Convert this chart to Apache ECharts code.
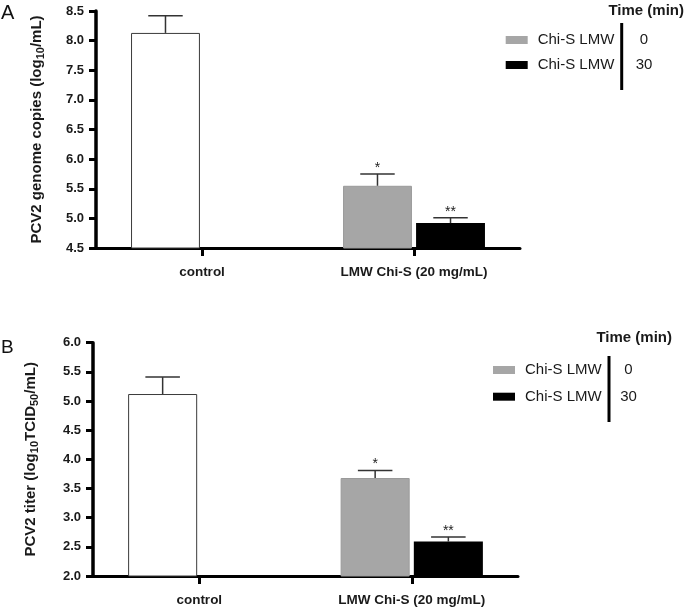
<!DOCTYPE html>
<html>
<head>
<meta charset="utf-8">
<script src="https://cdn.jsdelivr.net/npm/echarts@6/dist/echarts.min.js"></script>
<style>
html,body{margin:0;padding:0;background:#fff;}
#chart{width:685px;height:607px;}
</style>
</head>
<body>
<div id="chart"></div>
<script>
// ---- data ----
const categories = ['control', 'LMW Chi-S (20 mg/mL)'];
const seriesNames = ['Chi-S LMW 0', 'Chi-S LMW 30'];
const timeLabels = ['0', '30'];
// Panel A: PCV2 genome copies (log10/mL)
const genomeFirst = [8.13, 5.55];     // control, Chi-S LMW 0 min
const genomeSecond = [null, 4.92];    // Chi-S LMW 30 min
const genomeErrFirst = [0.29, 0.20];
const genomeErrSecond = [null, 0.09];
// Panel B: PCV2 titer (log10TCID50/mL)
const titerFirst = [5.12, 3.68];
const titerSecond = [null, 2.59];
const titerErrFirst = [0.29, 0.13];
const titerErrSecond = [null, 0.08];
const sigFirst = ['', '*'];
const sigSecond = ['', '**'];
const yTicksA = {min: 4.5, max: 8.5, interval: 0.5};
const yTicksB = {min: 2.0, max: 6.0, interval: 0.5};

// ---- styling ----
const FONT = 'Liberation Sans, Arial, Helvetica, sans-serif';
const BAR_FRAC = 0.325;
const GAP_FRAC = 0.06;
const WHITE = '#ffffff', GRAY = '#a6a6a6', BLACK = '#000000';

function barData(first, second) {
  return [
    first.map((v, i) => ({value: v, itemStyle: i === 0 ? {color: WHITE, borderColor: '#3a3a3a', borderWidth: 1} : {color: GRAY, borderColor: '#9a9a9a', borderWidth: 1}})),
    second.map(v => (v == null ? '-' : v))
  ];
}

function errData(first, second, eFirst, eSecond, sF, sS) {
  const out = [];
  first.forEach((v, i) => { if (v != null) out.push({value: [i, 0, v, v + eFirst[i]], sig: sF[i]}); });
  second.forEach((v, i) => { if (v != null) out.push({value: [i, 1, v, v + eSecond[i]], sig: sS[i]}); });
  return out;
}

function errSeries(xi, data) {
  return {
    type: 'custom', xAxisIndex: xi, yAxisIndex: xi, z: 5, silent: true,
    data: data.map(d => d.value),
    renderItem: function (params, api) {
      const cat = api.value(0), slot = api.value(1);
      const base = api.coord([cat, api.value(2)]);
      const top = api.coord([cat, api.value(3)]);
      const band = api.size([1, 0])[0];
      const bw = band * BAR_FRAC;
      const gap = bw * GAP_FRAC;
      const x = base[0] + (slot === 0 ? -1 : 1) * (bw + gap) / 2;
      const capHalf = bw / 4;
      const sig = data[params.dataIndex].sig;
      const children = [
        {type: 'line', shape: {x1: x, y1: base[1], x2: x, y2: top[1]}, style: {stroke: '#333', lineWidth: 1.5}},
        {type: 'line', shape: {x1: x - capHalf, y1: top[1], x2: x + capHalf, y2: top[1]}, style: {stroke: '#333', lineWidth: 1.5}}
      ];
      if (sig) {
        children.push({type: 'text', style: {text: sig, x: x, y: top[1] + 1, align: 'center', verticalAlign: 'bottom', font: '14px ' + FONT, fill: '#222'}});
      }
      return {type: 'group', children: children};
    }
  };
}

const axisLine = w => ({show: true, lineStyle: {color: '#000', width: w}});

function yAxis(gi, ticks, name, gap) {
  return {
    type: 'value', gridIndex: gi, min: ticks.min, max: ticks.max, interval: ticks.interval,
    axisLine: axisLine(3.5),
    axisTick: {show: true, length: 7, lineStyle: {color: '#000', width: 3}},
    axisLabel: {margin: 12, color: '#1a1a1a', fontFamily: FONT, fontWeight: 'bold', fontSize: 13, formatter: v => v.toFixed(1)},
    splitLine: {show: false},
    name: name, nameLocation: 'middle', nameRotate: 90, nameGap: gap,
    nameTextStyle: {color: '#1a1a1a', fontFamily: FONT, fontWeight: 'bold', fontSize: 15,
      rich: {sub: {fontFamily: FONT, fontWeight: 'bold', fontSize: 11, color: '#1a1a1a', padding: [7, 0, 0, 0]}}}
  };
}

function xAxis(gi) {
  return {
    type: 'category', gridIndex: gi, data: categories,
    axisLine: axisLine(3),
    axisTick: {show: true, alignWithLabel: true, length: 8, lineStyle: {color: '#000', width: 3}},
    axisLabel: {margin: 17, color: '#1a1a1a', fontFamily: FONT, fontWeight: 'bold', fontSize: 13.5}
  };
}

const [gA1, gA2] = barData(genomeFirst, genomeSecond);
const [gB1, gB2] = barData(titerFirst, titerSecond);

function legend(left, top, gapV) {
  return {
    left: left, top: top, orient: 'vertical', icon: 'rect', itemWidth: 22, itemHeight: 8, itemGap: gapV,
    padding: 0, selectedMode: false, data: seriesNames,
    formatter: () => 'Chi-S LMW',
    textStyle: {fontFamily: FONT, fontSize: 15, color: '#1a1a1a', lineHeight: 17, padding: [0, 0, 0, 5]}
  };
}

function legendDecor(lineX, y1, y2, numX, numYs, titleRight, titleY) {
  const els = [
    {type: 'line', shape: {x1: lineX, y1: y1, x2: lineX, y2: y2}, style: {stroke: '#000', lineWidth: 3}},
    {type: 'text', style: {text: 'Time (min)', x: titleRight, y: titleY, align: 'right', verticalAlign: 'middle', font: 'bold 15px ' + FONT, fill: '#1a1a1a'}}
  ];
  timeLabels.forEach((t, i) => {
    els.push({type: 'text', style: {text: t, x: numX, y: numYs[i], align: 'center', verticalAlign: 'middle', font: '15px ' + FONT, fill: '#1a1a1a'}});
  });
  return els;
}

const option = {
  animation: false,
  backgroundColor: '#fff',
  grid: [
    {left: 96, top: 11, width: 424, height: 237},
    {left: 93, top: 342.7, width: 425, height: 238}
  ],
  xAxis: [xAxis(0), xAxis(1)],
  yAxis: [
    yAxis(0, yTicksA, 'PCV2 genome copies (log{sub|10}/mL)', 50),
    yAxis(1, yTicksB, 'PCV2 titer (log{sub|10}TCID{sub|50}/mL)', 53)
  ],
  legend: [legend(505.7, 31.5, 8), legend(493, 361.5, 9.7)],
  series: [
    {name: seriesNames[0], type: 'bar', xAxisIndex: 0, yAxisIndex: 0, data: gA1, barWidth: (BAR_FRAC * 100) + '%', barGap: (GAP_FRAC * 100) + '%', itemStyle: {color: GRAY}},
    {name: seriesNames[1], type: 'bar', xAxisIndex: 0, yAxisIndex: 0, data: gA2, barWidth: (BAR_FRAC * 100) + '%', barGap: (GAP_FRAC * 100) + '%', itemStyle: {color: BLACK}},
    {name: seriesNames[0], type: 'bar', xAxisIndex: 1, yAxisIndex: 1, data: gB1, barWidth: (BAR_FRAC * 100) + '%', barGap: (GAP_FRAC * 100) + '%', itemStyle: {color: GRAY}},
    {name: seriesNames[1], type: 'bar', xAxisIndex: 1, yAxisIndex: 1, data: gB2, barWidth: (BAR_FRAC * 100) + '%', barGap: (GAP_FRAC * 100) + '%', itemStyle: {color: BLACK}},
    errSeries(0, errData(genomeFirst, genomeSecond, genomeErrFirst, genomeErrSecond, sigFirst, sigSecond)),
    errSeries(1, errData(titerFirst, titerSecond, titerErrFirst, titerErrSecond, sigFirst, sigSecond))
  ],
  graphic: [
    {type: 'text', left: 1, top: 3, style: {text: 'A', font: '20px ' + FONT, fill: '#111'}},
    {type: 'text', left: 1, top: 338, style: {text: 'B', font: '19px ' + FONT, fill: '#111'}}
  ].concat(
    legendDecor(621.7, 23, 90, 644, [40, 65], 684, 11),
    legendDecor(609, 356, 422, 628.5, [370, 397], 672, 338)
  )
};

const chart = echarts.init(document.getElementById('chart'));
chart.setOption(option);
</script>
</body>
</html>
